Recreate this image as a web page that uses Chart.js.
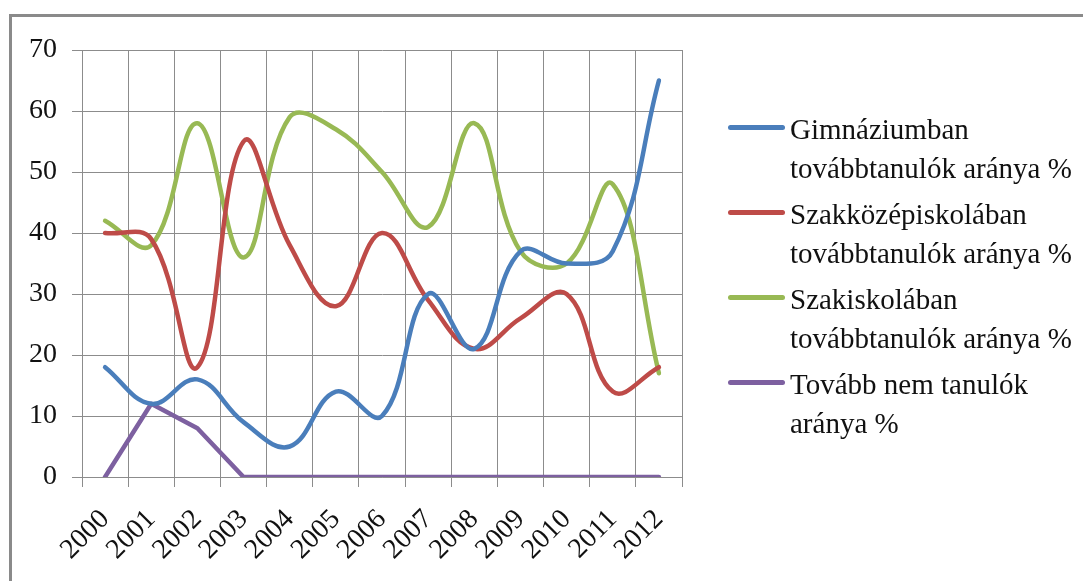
<!DOCTYPE html>
<html>
<head>
<meta charset="utf-8">
<script src="https://cdn.jsdelivr.net/npm/chart.js@4/dist/chart.umd.min.js"></script>
<style>
    body { margin: 0; background: #fff; }
    #wrap { position: relative; width: 1083px; height: 581px; overflow: hidden; }
    #frame {
        position: absolute; left: 9px; top: 14px; width: 1100px; height: 600px;
        border-top: 3px solid #8a8a8a; border-left: 3px solid #8a8a8a;
    }
    #chart { position: absolute; left: 0; top: 0; }
    #legend { position: absolute; left: 726px; top: 110px; font-family: "Liberation Serif", "Times New Roman", serif; font-size: 29px; line-height: 39px; color: #111; }
    .item { position: relative; padding-left: 64px; height: 78px; margin-bottom: 7px; }
    .item .swatch { position: absolute; left: 2px; top: 15px; width: 57px; height: 4.5px; border-radius: 3px; }
</style>
</head>
<body>
<div id="wrap">
    <div id="frame"></div>
    <canvas id="chart" width="1083" height="581"></canvas>
    <div id="legend"></div>
</div>
<script>
const years = ['2000', '2001', '2002', '2003', '2004', '2005', '2006', '2007', '2008', '2009', '2010', '2011', '2012'];
const gimnazium = [18, 12, 16, 9, 5, 14, 10, 30, 21, 37, 35, 37, 65];
const szakkozep = [40, 39, 18, 55, 38, 28, 40, 29, 21, 26, 30, 14, 18];
const szakiskola = [42, 38, 58, 36, 59, 57, 50, 41, 58, 37, 35, 48, 17];
const nemTanul = [0, 12, 8, 0, 0, 0, 0, 0, 0, 0, 0, 0, 0];
const seriesNames = [
    ['Gimnáziumban', 'továbbtanulók aránya %'],
    ['Szakközépiskolában', 'továbbtanulók aránya %'],
    ['Szakiskolában', 'továbbtanulók aránya %'],
    ['Tovább nem tanulók', 'aránya %']
];
const yTicks = [0, 10, 20, 30, 40, 50, 60, 70];

const colors = ['#4a7ebb', '#be4b48', '#98b954', '#7d60a0'];
const gridColor = '#8c8c8c';
const font = { family: '"Liberation Serif", "Times New Roman", serif', size: 28 };

function makeSet(i, values, tension) {
    return {
        label: seriesNames[i].join(' '),
        data: values,
        borderColor: colors[i],
        backgroundColor: colors[i],
        borderWidth: 4.5,
        pointRadius: 0,
        tension: tension,
        borderCapStyle: 'round',
        borderJoinStyle: 'round'
    };
}

const chart = new Chart(document.getElementById('chart'), {
    type: 'line',
    data: {
        labels: years,
        datasets: [
            makeSet(0, gimnazium, 0.4),
            makeSet(1, szakkozep, 0.4),
            makeSet(2, szakiskola, 0.4),
            makeSet(3, nemTanul, 0)
        ]
    },
    options: {
        responsive: false,
        animation: false,
        layout: { padding: { top: 50, left: 0, right: 401, bottom: 0 } },
        plugins: { legend: { display: false }, tooltip: { enabled: false } },
        scales: {
            x: {
                offset: true,
                grid: { offset: true, color: gridColor, lineWidth: 1, tickLength: 10 },
                border: { color: gridColor },
                ticks: { color: '#111', font: font, minRotation: 45, maxRotation: 45, autoSkip: false, padding: 16 },
                afterFit: scale => { scale.height = 104; }
            },
            y: {
                min: 0,
                max: 70,
                afterBuildTicks: scale => { scale.ticks = yTicks.map(v => ({ value: v })); },
                grid: { color: gridColor, lineWidth: 1, tickLength: 10 },
                border: { color: gridColor },
                ticks: { color: '#111', font: font, padding: 15 },
                afterFit: scale => { scale.width = 82; }
            }
        }
    }
});

const legend = document.getElementById('legend');
seriesNames.forEach((lines, i) => {
    const item = document.createElement('div');
    item.className = 'item';
    item.innerHTML = `<span class="swatch" style="background:${colors[i]}"></span>${lines.join('<br>')}`;
    legend.appendChild(item);
});
</script>
</body>
</html>
